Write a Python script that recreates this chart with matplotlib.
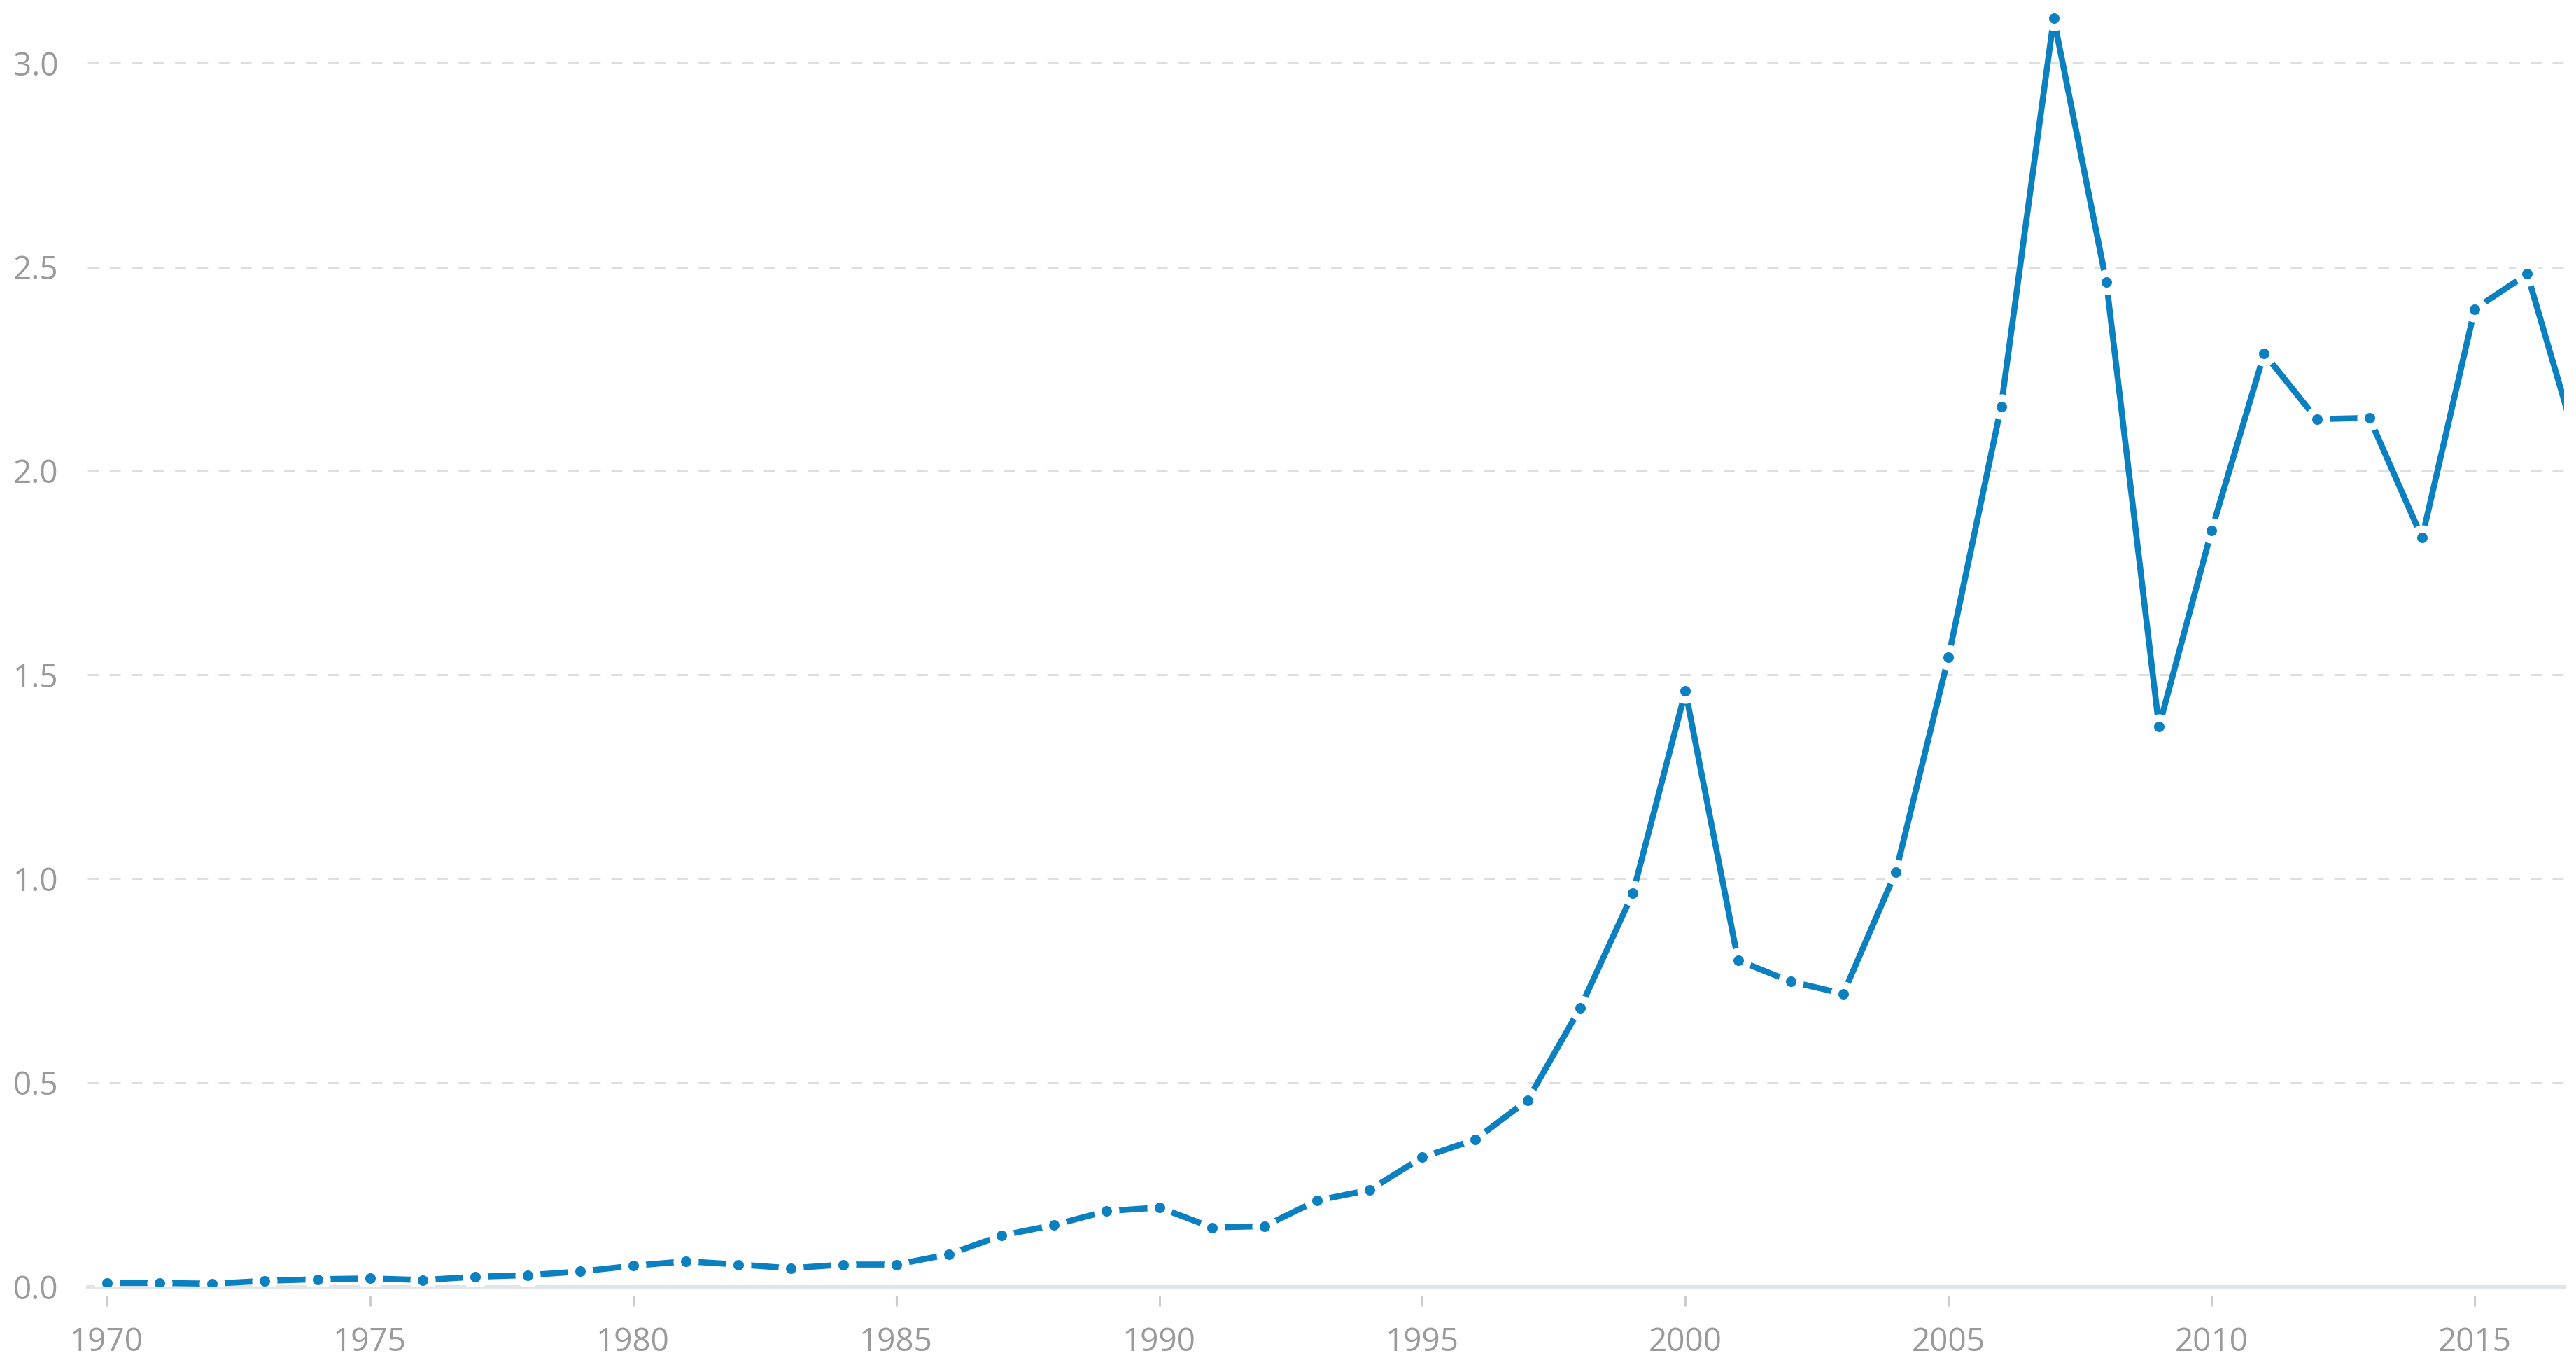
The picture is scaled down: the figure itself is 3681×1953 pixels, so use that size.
import matplotlib
matplotlib.use("Agg")
import matplotlib.pyplot as plt
import numpy as np

# Valores
anos = list(range(1970, 2018))
valores = [0.009, 0.009, 0.007, 0.014, 0.018, 0.020, 0.016, 0.024, 0.028, 0.037,
           0.051, 0.062, 0.054, 0.045, 0.054, 0.054, 0.079, 0.125, 0.151, 0.185,
           0.194, 0.145, 0.148, 0.211, 0.237, 0.317, 0.360, 0.457, 0.683, 0.964,
           1.460, 0.800, 0.748, 0.718, 1.017, 1.544, 2.158, 3.110, 2.463, 1.373,
           1.854, 2.288, 2.127, 2.130, 1.836, 2.397, 2.483, 2.040]
ticks_x = [1970, 1975, 1980, 1985, 1990, 1995, 2000, 2005, 2010, 2015]
ticks_y = [0.0, 0.5, 1.0, 1.5, 2.0, 2.5, 3.0]

cor_linha = "#0a80c0"
cor_texto = "#9a9a9a"
cor_grade = "#dedede"

plt.rcParams["font.family"] = ["Open Sans", "DejaVu Sans"]

fig = plt.figure(figsize=(36.81, 19.53), dpi=100)
ax = fig.add_axes([125 / 3681, 115 / 1953, (3664 - 125) / 3681, 1 - 115 / 1953])

ax.plot(anos, valores, color=cor_linha, linewidth=6.2, marker="o",
        markersize=18.4, markerfacecolor=cor_linha, markeredgecolor="white",
        markeredgewidth=7.6, solid_capstyle="butt", zorder=3)

ax.set_xlim(1969.63, 2016.7)
ax.set_ylim(0, 3.155)

ax.set_xticks(ticks_x)
ax.set_xticklabels([str(t) for t in ticks_x])
ax.set_yticks(ticks_y)
ax.set_yticklabels([f"{t:.1f}" for t in ticks_y])

# grade horizontal tracejada
for y in ticks_y[1:]:
    ax.axhline(y, color=cor_grade, linewidth=2.2, linestyle=(0, (5.2, 5.0)), zorder=1)
# linha do eixo
ax.axhline(0, color="#e2e5e8", linewidth=3.6, zorder=2, clip_on=False)

for lado in ["top", "right", "left"]:
    ax.spines[lado].set_visible(False)
ax.spines["bottom"].set_color("none")
ax.spines["bottom"].set_position(("outward", 9.4))

ax.tick_params(axis="x", direction="out", length=10.8, width=2.2, color="#cccccc",
               labelsize=33, labelcolor=cor_texto, pad=21)
ax.tick_params(axis="y", length=0, labelsize=33, labelcolor=cor_texto, pad=30)

fig.savefig("out.png", dpi=100)
